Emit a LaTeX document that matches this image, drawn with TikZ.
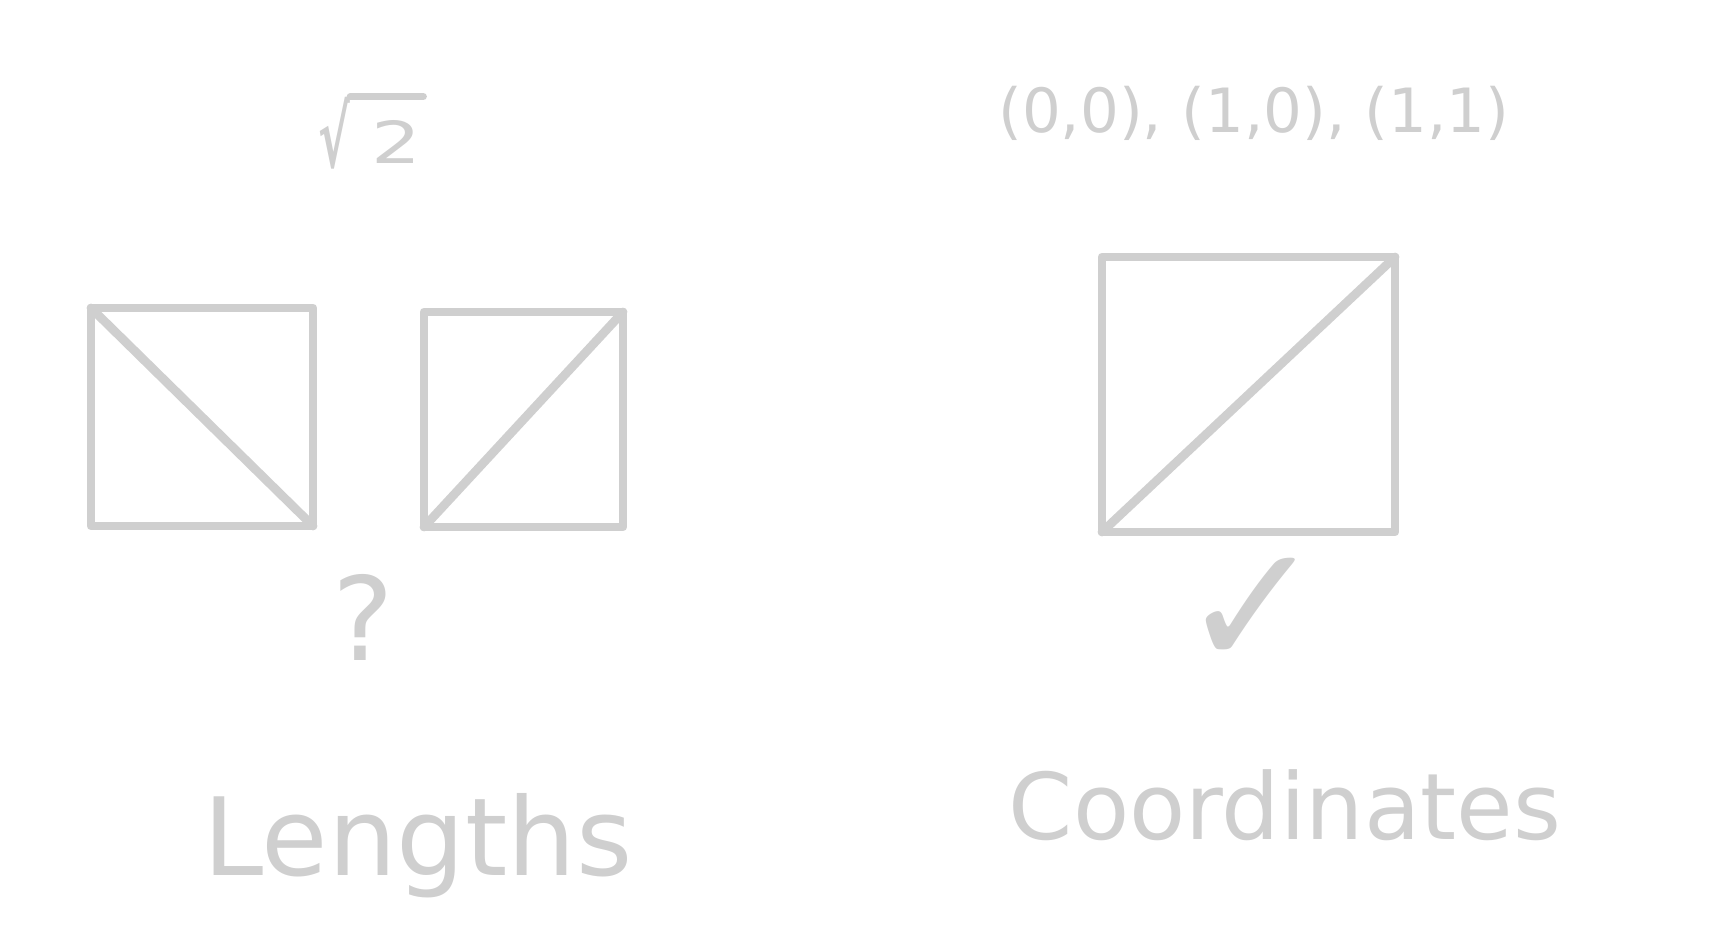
\documentclass[tikz,border=0pt]{standalone}
\usepackage{fontspec}
\usepackage{graphicx}
\setmainfont{DejaVu Sans}
\usetikzlibrary{positioning}
\definecolor{penGray}{HTML}{CFCFCF}

\begin{document}
\begin{tikzpicture}[x=0.5pt,y=-0.5pt,
    sketch/.style={draw=penGray,line width=4.4pt,line cap=round,line join=round},
    scribble/.style={text=penGray,inner sep=0pt}]

    % Fix the page size
    \useasboundingbox (0,0) rectangle (1736,946);

    % Left side: two unit squares with different diagonals
    \draw[sketch] (91,308) rectangle (313,526);
    \draw[sketch] (91,308) -- (313,526);
    \draw[sketch] (424,312) rectangle (623,527);
    \draw[sketch] (424,527) -- (623,312);

    % Right side: one square with a diagonal
    \draw[sketch] (1102,257) rectangle (1395,532);
    \draw[sketch] (1102,532) -- (1395,257);

    % Square root label with its bar
    \node[scribble,font=\fontsize{28}{30}\selectfont] (sqrtsign) at (334,133) {\scalebox{0.85}[1.5]{\bfseries √}};
    \node[scribble,font=\fontsize{29}{30}\selectfont] (two) at (396,142) {\scalebox{1.35}[1]{2}};
    \draw[sketch,line width=3.6pt] (sqrtsign.north east) -- ([xshift=1pt]sqrtsign.north east -| two.east);

    % Labels
    \node[scribble,anchor=base,font=\fontsize{30.5}{32}\selectfont] (coords) at (1254,133) {(0,0), (1,0), (1,1)};
    \node[scribble,anchor=base,font=\fontsize{58}{60}\selectfont] (question) at (363,661) {?};
    \node[scribble,font=\fontsize{86}{88}\selectfont] (check) at (1253,612) {✓};

    % Headings
    \node[scribble,anchor=base,font=\fontsize{54}{56}\selectfont] (lengths) at (418,875) {Lengths};
    \node[scribble,anchor=base,font=\fontsize{46}{48}\selectfont] (coordinates) at (1285,839) {Coordinates};

\end{tikzpicture}
\end{document}
